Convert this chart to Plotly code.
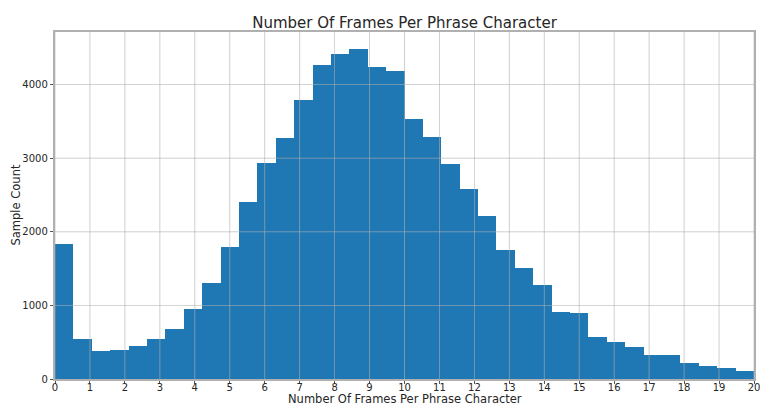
import numpy as np
import plotly.graph_objects as go

# Histogram counts: 38 equal-width bins spanning 0..20 frames per character
bin_start = 0.0
bin_end = 20.0
counts = [
    1840, 540, 376, 392, 444, 539, 675, 956, 1306, 1796,
    2403, 2929, 3279, 3796, 4267, 4416, 4490, 4239, 4185, 3528,
    3288, 2925, 2576, 2215, 1759, 1514, 1274, 911, 893, 566,
    508, 430, 327, 327, 218, 177, 150, 109,
]
x_ticks = list(range(0, 21))
y_ticks = [0, 1000, 2000, 3000, 4000]

edges = np.linspace(bin_start, bin_end, len(counts) + 1)
centers = (edges[:-1] + edges[1:]) / 2
widths = np.diff(edges)

BLUE = "#1f77b4"
GRID = "#b0b0b0"
TEXT = "#262626"
FONT = "DejaVu Sans"

W, H = 761, 405
ML, MR, MT, MB = 55, 7, 32, 26
PW, PH = W - ML - MR, H - MT - MB

fig = go.Figure(
    go.Bar(
        x=centers,
        y=counts,
        width=widths,
        marker=dict(color=BLUE, line=dict(width=0)),
        hoverinfo="x+y",
    )
)

# Grid lines drawn over the bars, as in a pandas/matplotlib histogram
shapes = []
for xv in x_ticks:
    shapes.append(dict(type="line", xref="x", yref="paper", x0=xv, x1=xv, y0=0, y1=1,
                       line=dict(color=GRID, width=0.8), opacity=0.75, layer="above"))
for yv in y_ticks[1:]:
    shapes.append(dict(type="line", xref="paper", yref="y", x0=0, x1=1, y0=yv, y1=yv,
                       line=dict(color=GRID, width=0.8), opacity=0.75, layer="above"))

# Axis titles placed as annotations so they sit just outside the tick labels
annotations = [
    dict(text="Number Of Frames Per Phrase Character", showarrow=False,
         xref="paper", yref="paper", x=0.5, y=-MB / PH, yshift=-2,
         xanchor="center", yanchor="bottom", borderpad=0,
         font=dict(size=11.5, family=FONT, color=TEXT)),
    dict(text="Sample Count", showarrow=False, textangle=-90,
         xref="paper", yref="paper", x=(15 - ML) / PW, y=0.5,
         xanchor="center", yanchor="middle",
         font=dict(size=11.5, family=FONT, color=TEXT)),
]

ymax = max(counts) * 1.05

fig.update_layout(
    width=W,
    height=H,
    margin=dict(l=ML, r=MR, t=MT, b=MB, autoexpand=False),
    paper_bgcolor="white",
    plot_bgcolor="white",
    bargap=0,
    showlegend=False,
    shapes=shapes,
    annotations=annotations,
    font=dict(family=FONT, color=TEXT, size=10),
    title=dict(
        text="Number Of Frames Per Phrase Character",
        x=0.5, xref="paper", xanchor="center",
        y=1 - 23 / H, yref="container", yanchor="middle",
        font=dict(size=15, family=FONT, color=TEXT),
    ),
    xaxis=dict(
        range=[bin_start, bin_end],
        tickvals=x_ticks,
        ticktext=[str(v) for v in x_ticks],
        ticks="outside", ticklen=3.5, tickwidth=0.8, tickcolor="#555",
        ticklabelstandoff=-5,
        showgrid=False, zeroline=False, automargin=False,
        showline=True, mirror=True, linecolor=GRID, linewidth=1.5,
        tickfont=dict(size=10, family=FONT, color=TEXT),
    ),
    yaxis=dict(
        range=[0, ymax],
        tickvals=y_ticks,
        ticktext=[str(v) for v in y_ticks],
        ticks="outside", ticklen=3.5, tickwidth=0.8, tickcolor="#555",
        showgrid=False, zeroline=False, automargin=False,
        showline=True, mirror=True, linecolor=GRID, linewidth=1.5,
        tickfont=dict(size=10, family=FONT, color=TEXT),
    ),
)

fig.write_html("out.html")
